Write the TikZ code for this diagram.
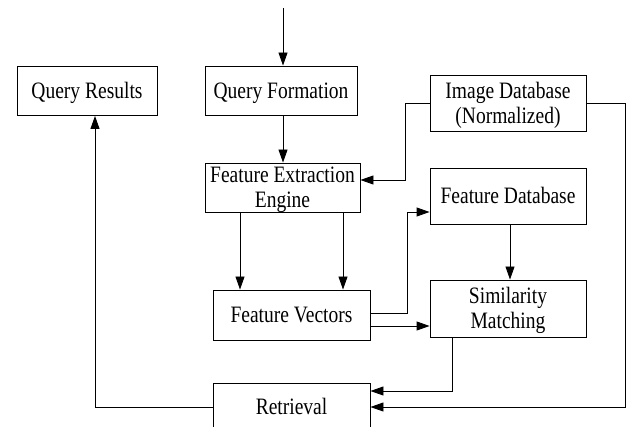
\documentclass[tikz,border=0pt]{standalone}
\usepackage{fontspec}
\setmainfont{Liberation Serif}
\usetikzlibrary{arrows.meta}
\newcommand\tx[1]{\scalebox{0.83}[1]{\begin{tabular}[t]{@{}c@{}}#1\end{tabular}}}
\begin{document}
\begin{tikzpicture}[x=1pt,y=-1pt,
  box/.style={draw, line width=0.9pt, inner sep=0pt, text height=15.5pt, text depth=0pt,
    font=\fontsize{23.5}{25}\selectfont},
  twoline/.style={text depth=25pt},
  conn/.style={line width=0.9pt, -{Triangle[length=13pt,width=9pt]}}]
\useasboundingbox (0,0) rectangle (631,427);
\node[box, minimum width=140, minimum height=49] (qr) at (87,91) {\tx{Query Results}};
\node[box, minimum width=152, minimum height=49] (qf) at (281,90.5) {\tx{Query Formation}};
\node[box, twoline, minimum width=155, minimum height=49] (fee) at (282.5,187.5) {\tx{Feature Extraction\\Engine}};
\node[box, twoline, minimum width=156, minimum height=56] (idb) at (508,103) {\tx{Image Database\\(Normalized)}};
\node[box, minimum width=156, minimum height=56] (fdb) at (508,196) {\tx{Feature Database}};
\node[box, minimum width=157, minimum height=50] (fv) at (291.5,315) {\tx{Feature Vectors}};
\node[box, twoline, minimum width=156, minimum height=57] (sm) at (508,308.5) {\tx{Similarity\\Matching}};
\node[box, minimum width=157, minimum height=48] (ret) at (291.5,407) {\tx{Retrieval}};
\coordinate (top) at (283,8);
\draw[conn] (top) -- (top |- qf.north);
\draw[conn] (qf.south -| 283,0) -- (fee.north -| 283,0);
\draw[conn] (idb.west) -- (405,103) -- (405,180) -- (fee.east |- 0,180);
\draw[conn] (fee.south -| 240,0) -- (fv.north -| 240,0);
\draw[conn] (fee.south -| 343,0) -- (fv.north -| 343,0);
\draw[conn] (fv.east |- 0,313) -- (407,313) -- (407,212) -- (fdb.west |- 0,212);
\draw[conn] (fv.east |- 0,326) -- (sm.west |- 0,326);
\draw[conn] (fdb.south -| 510,0) -- (sm.north -| 510,0);
\draw[conn] (sm.south -| 452,0) -- (452,391) -- (ret.east |- 0,391);
\draw[conn] (idb.east) -- (625,103) -- (625,407) -- (ret.east);
\draw[conn] (ret.west) -- (95,407) -- (qr.south -| 95,0);
\end{tikzpicture}
\end{document}
